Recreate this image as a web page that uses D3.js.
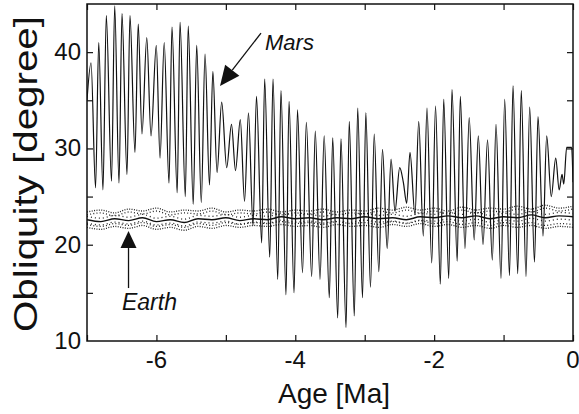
<!DOCTYPE html>
<html>
<head>
<meta charset="utf-8">
<script src="https://cdn.jsdelivr.net/npm/d3@7"></script>
<style>
  body { margin: 0; background: #fff; }
  svg { display: block; font-family: "Liberation Sans", Arial, sans-serif; }
</style>
</head>
<body>
<div id="chart"></div>
<script>
// Mars obliquity, peaks and troughs (age in Ma, degrees)
var marsAge = [-7.000, -6.942, -6.877, -6.831, -6.770, -6.722, -6.647, -6.601, -6.539, -6.496,
    -6.424, -6.381, -6.309, -6.262, -6.208, -6.139, -6.078, -6.002, -5.948, -5.888,
    -5.819, -5.776, -5.701, -5.660, -5.584, -5.542, -5.470, -5.420, -5.354, -5.300,
    -5.236, -5.187, -5.127, -5.060, -4.988, -4.919, -4.861, -4.792, -4.731, -4.674,
    -4.609, -4.559, -4.484, -4.441, -4.368, -4.321, -4.253, -4.206, -4.134, -4.090,
    -4.018, -3.968, -3.896, -3.841, -3.764, -3.712, -3.644, -3.584, -3.510, -3.461,
    -3.389, -3.342, -3.269, -3.223, -3.150, -3.101, -3.032, -2.984, -2.917, -2.863,
    -2.797, -2.744, -2.676, -2.621, -2.564, -2.496, -2.444, -2.395, -2.348, -2.276,
    -2.222, -2.156, -2.103, -2.035, -1.980, -1.911, -1.862, -1.790, -1.743, -1.668,
    -1.623, -1.556, -1.495, -1.423, -1.364, -1.296, -1.231, -1.162, -1.109, -1.037,
    -0.984, -0.915, -0.864, -0.796, -0.745, -0.677, -0.624, -0.555, -0.504, -0.432,
    -0.379, -0.313, -0.249, -0.199, -0.158, -0.133, -0.091, -0.020, 0.000];
var marsObliquity = [35.0, 38.9, 25.9, 41.0, 25.7, 43.8, 26.6, 44.8, 26.4, 44.0,
    27.3, 43.8, 29.6, 42.9, 31.5, 41.5, 31.3, 40.7, 29.0, 41.0,
    26.4, 42.6, 25.4, 43.1, 25.0, 42.7, 24.2, 40.7, 24.4, 39.8,
    26.2, 38.0, 27.5, 34.8, 28.0, 32.5, 27.7, 33.0, 24.5, 33.7,
    22.0, 35.4, 20.2, 37.2, 18.7, 37.2, 16.4, 36.0, 14.8, 34.9,
    15.0, 34.0, 17.1, 32.7, 16.7, 31.8, 16.4, 31.3, 14.5, 31.1,
    12.4, 31.0, 11.4, 32.8, 12.6, 34.2, 14.5, 33.7, 15.6, 31.5,
    17.2, 29.9, 19.6, 28.9, 23.5, 28.0, 26.5, 24.3, 29.6, 23.1,
    32.8, 20.9, 34.2, 18.1, 34.4, 15.9, 35.1, 16.5, 36.1, 18.3,
    35.4, 19.6, 33.2, 20.5, 31.3, 20.0, 30.9, 18.4, 32.5, 16.5,
    35.1, 16.8, 36.5, 17.0, 36.0, 16.7, 34.3, 18.2, 33.3, 20.9,
    31.3, 25.0, 29.0, 25.7, 27.3, 26.3, 30.1, 30.1, 26.5];

// Earth obliquity band (solid centre, dotted upper / lower), every 0.2 Ma
var earthAge = [-7.0, -6.8, -6.6, -6.4, -6.2, -6.0, -5.8, -5.6, -5.4, -5.2, -5.0, -4.8,
    -4.6, -4.4, -4.2, -4.0, -3.8, -3.6, -3.4, -3.2, -3.0, -2.8, -2.6, -2.4,
    -2.2, -2.0, -1.8, -1.6, -1.4, -1.2, -1.0, -0.8, -0.6, -0.4, -0.2, 0.0];
var earthMid = [22.6, 22.4, 22.7, 22.5, 22.8, 22.4, 22.6, 22.3, 22.7, 22.6, 22.8, 22.5,
    22.7, 22.6, 22.9, 22.7, 22.8, 22.6, 22.8, 22.7, 22.9, 22.7, 22.8, 22.6,
    22.9, 22.8, 23.0, 22.8, 23.0, 22.7, 22.9, 22.8, 23.1, 22.8, 23.0, 22.9];
var earthHigh = [23.4, 23.6, 23.3, 23.7, 23.5, 23.8, 23.4, 23.6, 23.5, 23.8, 23.4, 23.6,
    23.5, 23.7, 23.4, 23.6, 23.5, 23.7, 23.4, 23.6, 23.5, 23.8, 23.6, 23.9,
    23.6, 23.8, 23.5, 23.9, 23.6, 23.8, 23.7, 24.0, 23.7, 24.1, 23.8, 24.0];
var earthLow = [21.8, 21.6, 21.9, 21.7, 22.0, 21.6, 21.8, 21.5, 21.9, 21.7, 22.0, 21.8,
    22.0, 21.9, 22.1, 21.9, 22.0, 21.8, 22.1, 21.9, 22.0, 21.8, 22.1, 21.9,
    22.2, 21.9, 22.1, 21.8, 22.0, 21.7, 22.0, 21.8, 22.0, 21.7, 21.9, 21.8];

var xTicks = [-6, -4, -2, 0];
var xMinor = [-7, -6, -5, -4, -3, -2, -1, 0];
var yTicks = [10, 20, 30, 40];
var yMinor = [15, 20, 25, 30, 35, 40];

var width = 579, height = 414;
var margin = {left: 87, right: 6, top: 4, bottom: 73};

var svg = d3.select("#chart").append("svg")
    .attr("width", width)
    .attr("height", height);

var x = d3.scaleLinear().domain([-7, 0]).range([margin.left, width - margin.right]);
var y = d3.scaleLinear().domain([10, 45]).range([height - margin.bottom, margin.top]);

svg.append("clipPath").attr("id", "plot")
    .append("rect")
    .attr("x", x(-7)).attr("y", y(45))
    .attr("width", x(0) - x(-7)).attr("height", y(10) - y(45));

var plot = svg.append("g").attr("clip-path", "url(#plot)");

function series(ages, vals, shift) {
    shift = shift || 0;
    return ages.map(function (a, i) { return [a, vals[i] + shift]; });
}

var line = d3.line()
    .x(function (d) { return x(d[0]); })
    .y(function (d) { return y(d[1]); })
    .curve(d3.curveMonotoneX);

// Earth band: stippled dotted lines round a solid centre
[[earthHigh, 0, "1,1.4"], [earthHigh, -0.3, "1,2.2"], [earthLow, 0, "1,1.4"],
 [earthLow, 0.3, "1,2.2"], [earthMid, 0.35, "1,3"], [earthMid, -0.35, "1,3"]].forEach(function (s) {
    plot.append("path")
        .datum(series(earthAge, s[0], s[1]))
        .attr("fill", "none")
        .attr("stroke", "#222")
        .attr("stroke-width", 1.3)
        .attr("stroke-dasharray", s[2])
        .attr("d", line);
});
plot.append("path")
    .datum(series(earthAge, earthMid))
    .attr("fill", "none")
    .attr("stroke", "#111")
    .attr("stroke-width", 1.4)
    .attr("d", line);

// Mars
plot.append("path")
    .datum(series(marsAge, marsObliquity))
    .attr("fill", "none")
    .attr("stroke", "#111")
    .attr("stroke-width", 1.2)
    .attr("d", line);

// axes: ticks inside on all four sides
var axisG = svg.append("g");
axisG.append("g")
    .attr("transform", "translate(0," + y(10) + ")")
    .call(d3.axisBottom(x).tickValues(xMinor).tickSize(-6).tickFormat(""));
axisG.append("g")
    .attr("transform", "translate(0," + y(45) + ")")
    .call(d3.axisTop(x).tickValues(xMinor).tickSize(-6).tickFormat(""));
axisG.append("g")
    .attr("transform", "translate(" + x(-7) + ",0)")
    .call(d3.axisLeft(y).tickValues(yMinor).tickSize(-6).tickFormat(""));
axisG.append("g")
    .attr("transform", "translate(" + x(0) + ",0)")
    .call(d3.axisRight(y).tickValues(yMinor).tickSize(-6).tickFormat(""));
axisG.selectAll(".domain").remove();
axisG.selectAll("line").attr("stroke", "#111").attr("stroke-width", 1.2);

svg.append("rect")
    .attr("x", x(-7)).attr("y", y(45))
    .attr("width", x(0) - x(-7)).attr("height", y(10) - y(45))
    .attr("fill", "none")
    .attr("stroke", "#111")
    .attr("stroke-width", 1.5);

// tick labels
svg.selectAll(".xlab").data(xTicks).enter().append("text")
    .attr("x", function (d) { return x(d); })
    .attr("y", y(10) + 27)
    .attr("text-anchor", "middle")
    .attr("font-size", 24)
    .attr("fill", "#111")
    .text(function (d) { return d; });

svg.selectAll(".ylab").data(yTicks).enter().append("text")
    .attr("x", x(-7) - 6)
    .attr("y", function (d) { return y(d) + 8; })
    .attr("text-anchor", "end")
    .attr("font-size", 24)
    .attr("fill", "#111")
    .text(function (d) { return d; });

svg.append("text")
    .attr("x", (x(-7) + x(0)) / 2 + 4)
    .attr("y", 403)
    .attr("text-anchor", "middle")
    .attr("font-size", 28)
    .attr("fill", "#111")
    .text("Age [Ma]");

svg.append("text")
    .attr("transform", "translate(37,174) rotate(-90)")
    .attr("text-anchor", "middle")
    .attr("font-size", 33)
    .attr("textLength", 316)
    .attr("lengthAdjust", "spacingAndGlyphs")
    .attr("fill", "#111")
    .text("Obliquity [degree]");

// annotations
function arrow(tip, tail, len, half) {
    var tx = x(tip[0]), ty = y(tip[1]), sx = x(tail[0]), sy = y(tail[1]);
    var dx = sx - tx, dy = sy - ty, L = Math.sqrt(dx * dx + dy * dy);
    var ux = dx / L, uy = dy / L;
    var bx = tx + ux * len, by = ty + uy * len;
    svg.append("line")
        .attr("x1", bx).attr("y1", by).attr("x2", sx).attr("y2", sy)
        .attr("stroke", "#111").attr("stroke-width", 1.3);
    svg.append("path")
        .attr("d", "M" + tx + "," + ty +
            "L" + (bx - uy * half) + "," + (by + ux * half) +
            "L" + (bx + uy * half) + "," + (by - ux * half) + "Z")
        .attr("fill", "#111");
}

arrow([-5.084, 36.48], [-4.494, 41.98], 20, 9);
arrow([-6.402, 21.42], [-6.402, 15.5], 17, 8);

svg.append("text")
    .attr("x", x(-4.436)).attr("y", y(40.2))
    .attr("font-size", 22)
    .attr("font-style", "italic")
    .attr("fill", "#111")
    .text("Mars");

svg.append("text")
    .attr("x", x(-6.496)).attr("y", y(13.2))
    .attr("font-size", 23)
    .attr("font-style", "italic")
    .attr("fill", "#111")
    .text("Earth");
</script>
</body>
</html>
